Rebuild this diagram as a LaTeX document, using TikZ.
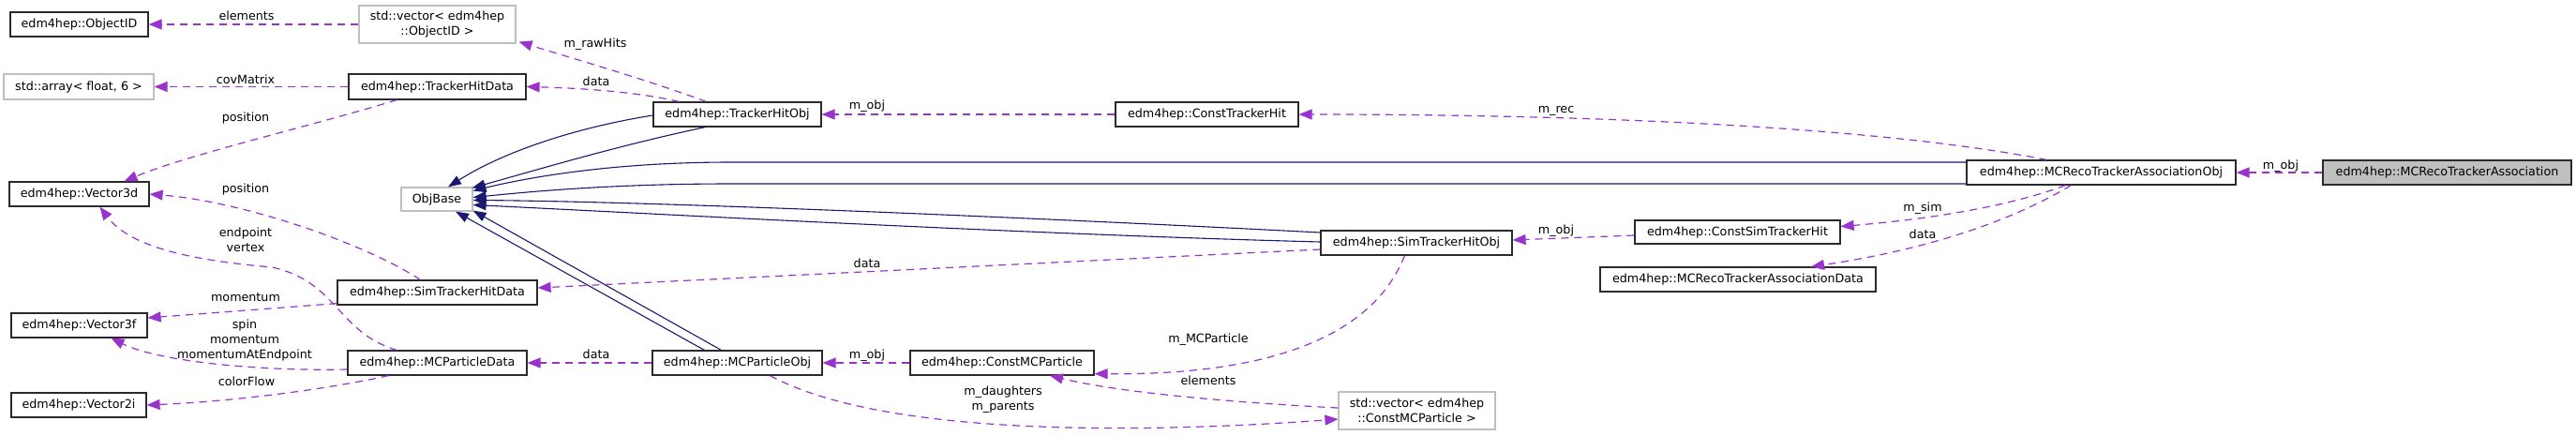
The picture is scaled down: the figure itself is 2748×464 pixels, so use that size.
\documentclass[tikz,border=0pt]{standalone}
\usepackage{fontspec}
\setmainfont{DejaVu Sans}
\usetikzlibrary{arrows.meta,calc}
\definecolor{usecol}{HTML}{9A32CD}
\definecolor{inhcol}{HTML}{191970}
\definecolor{extcol}{HTML}{BFBFBF}
\definecolor{bordcol}{HTML}{2A2A2A}
\newcommand\dxfont{\fontsize{12.7}{16}\selectfont}
\tikzset{
  cls/.style={draw=bordcol, fill=white, line width=1.2pt, inner sep=0pt, minimum height=26pt, font=\dxfont, align=center, text=black},
  ext/.style={cls, draw=extcol},
  root/.style={cls, fill=extcol},
  lbl/.style={font=\dxfont, inner sep=0pt, align=center, text=black},
  use/.style={draw=usecol, line width=1.2pt, dash pattern=on 8pt off 6pt, -{Triangle[length=14pt,width=11pt,fill=usecol]}},
  inh/.style={draw=inhcol, line width=1.1pt, -{Triangle[length=14pt,width=10pt,fill=inhcol]}},
}
\begin{document}
\begin{tikzpicture}[x=1pt,y=-1pt]
\useasboundingbox (0,0) rectangle (2748,464);
% nodes
\node[cls, minimum width=147pt] (objid) at (84.5,26) {edm4hep::ObjectID};
\node[ext, minimum width=167pt, minimum height=40pt] (vecobjid) at (466.5,26) {std::vector< edm4hep\\::ObjectID >};
\node[ext, minimum width=160pt, minimum height=27pt] (arr) at (84,92.5) {std::array< float, 6 >};
\node[cls, minimum width=189pt, minimum height=27pt] (thd) at (466.5,92.5) {edm4hep::TrackerHitData};
\node[cls, minimum width=149pt] (v3d) at (84.5,207) {edm4hep::Vector3d};
\node[ext, minimum width=76pt, minimum height=25pt] (objbase) at (466,212.5) {ObjBase};
\node[cls, minimum width=213pt] (sthd) at (466.5,312) {edm4hep::SimTrackerHitData};
\node[cls, minimum width=145pt] (v3f) at (84.5,347) {edm4hep::Vector3f};
\node[cls, minimum width=191pt] (mcpd) at (466.5,387) {edm4hep::MCParticleData};
\node[cls, minimum width=144pt] (v2i) at (84,432) {edm4hep::Vector2i};
\node[cls, minimum width=179pt] (tho) at (786.5,122) {edm4hep::TrackerHitObj};
\node[cls, minimum width=195pt] (cth) at (1287.5,122) {edm4hep::ConstTrackerHit};
\node[cls, minimum width=181pt] (mcpo) at (786.5,387) {edm4hep::MCParticleObj};
\node[cls, minimum width=196pt] (cmcp) at (1069,387) {edm4hep::ConstMCParticle};
\node[cls, minimum width=204pt] (stho) at (1511,259) {edm4hep::SimTrackerHitObj};
\node[cls, minimum width=219pt, minimum height=25pt] (csth) at (1853.5,247.5) {edm4hep::ConstSimTrackerHit};
\node[cls, minimum width=294pt] (mcrd) at (1854,298) {edm4hep::MCRecoTrackerAssociationData};
\node[ext, minimum width=167pt, minimum height=40pt] (vecmcp) at (1511.5,438) {std::vector< edm4hep\\::ConstMCParticle >};
\node[cls, minimum width=287pt] (mcro) at (2241.5,184) {edm4hep::MCRecoTrackerAssociationObj};
\node[root, minimum width=265pt] (mcra) at (2610.5,184) {edm4hep::MCRecoTrackerAssociation};
% inheritance edges
\draw[inh] ($(tho.west)+(0,1)$) .. controls (620,135) and (540,160) .. ($(objbase.north)+(12,0)$);
\draw[inh] ($(tho.south west)+(56,0)$) .. controls (660,155) and (570,182) .. ($(objbase.north east)+(-1,1)$);
\draw[inh] ($(mcro.west)+(0,-11)$) -- (780,173) .. controls (650,173) and (560,190) .. ($(objbase.east)+(0,-9)$);
\draw[inh] ($(mcro.west)+(0,12)$) -- (780,196) .. controls (650,196) and (560,205) .. ($(objbase.east)+(0,-2)$);
\draw[inh] ($(stho.west)+(0,-11)$) .. controls (1100,232) and (700,215) .. ($(objbase.east)+(0,1)$);
\draw[inh] ($(stho.west)+(0,-1)$) .. controls (1100,250) and (700,228) .. ($(objbase.east)+(0,6)$);
\draw[inh] ($(mcpo.north west)+(56,0)$) -- ($(objbase.south)+(20,0)$);
\draw[inh] ($(mcpo.north west)+(74,0)$) -- ($(objbase.south east)+(0,-1)$);
% usage edges
\draw[use] (vecobjid.west) -- (objid.east);
\draw[use] ($(tho.north west)+(57,0)$) .. controls (690,85) and (610,62) .. ($(vecobjid.south east)+(3,-2)$);
\draw[use] ($(tho.north west)+(28,0)$) .. controls (680,98) and (620,94) .. (thd.east);
\draw[use] (thd.west) -- (arr.east);
\draw[use] ($(thd.south west)+(52,0)$) .. controls (330,135) and (200,165) .. ($(v3d.north)+(48,0)$);
\draw[use] ($(sthd.north west)+(89,0)$) .. controls (390,260) and (260,215) .. (v3d.east);
\draw[use] ($(mcpd.north west)+(53,0)$) .. controls (360,355) and (360,300) .. (290,285) .. controls (210,278) and (140,265) .. ($(v3d.south)+(22,0)$);
\draw[use] ($(sthd.south west)+(0,-2)$) -- ($(v3f.east)+(0,-8)$);
\draw[use] ($(mcpd.west)+(0,7)$) .. controls (280,396) and (170,386) .. ($(v3f.south)+(34,0)$);
\draw[use] ($(mcpd.south west)+(44,0)$) .. controls (350,415) and (250,428) .. (v2i.east);
\draw[use] (mcpo.west) -- (mcpd.east);
\draw[use] ($(stho.west)+(0,7)$) -- ($(sthd.east)+(0,-5)$);
\draw[use] (cth.west) -- (tho.east);
\draw[use] (cmcp.west) -- (mcpo.east);
\draw[use] ($(stho.south west)+(90,0)$) .. controls (1460,370) and (1330,400) .. ($(cmcp.south east)+(0,-2)$);
\draw[use] ($(vecmcp.west)+(0,-3)$) .. controls (1330,430) and (1200,420) .. ($(cmcp.south)+(51,0)$);
\draw[use] ($(mcpo.south west)+(126,0)$) .. controls (950,470) and (1250,460) .. ($(vecmcp.west)+(0,9)$);
\draw[use] ($(csth.west)+(0,3.5)$) -- ($(stho.east)+(0,-3)$);
\draw[use] ($(mcro.north west)+(86,0)$) .. controls (2000,135) and (1700,122) .. (cth.east);
\draw[use] ($(mcro.south west)+(106,0)$) .. controls (2130,225) and (2030,236) .. ($(csth.east)+(0,-6)$);
\draw[use] ($(mcro.south west)+(112,0)$) .. controls (2130,245) and (2030,270) .. ($(mcrd.north)+(78,0)$);
\draw[use] (mcra.west) -- (mcro.east);
% labels
\node[lbl] (l1) at (263,17) {elements};
\node[lbl] (l2) at (635,47) {m\_rawHits};
\node[lbl] (l3) at (636,87) {data};
\node[lbl] (l4) at (262,85) {covMatrix};
\node[lbl] (l5) at (262,126) {position};
\node[lbl] (l6) at (262,202) {position};
\node[lbl] (l7) at (262,256) {endpoint\\vertex};
\node[lbl] (l8) at (262,317) {momentum};
\node[lbl] (l9) at (261,363) {spin\\momentum\\momentumAtEndpoint};
\node[lbl] (l10) at (263,407) {colorFlow};
\node[lbl] (l11) at (636,378) {data};
\node[lbl] (l12) at (925,281) {data};
\node[lbl] (l13) at (925,113) {m\_obj};
\node[lbl] (l14) at (925,379) {m\_obj};
\node[lbl] (l15) at (1289,362) {m\_MCParticle};
\node[lbl] (l16) at (1289,406) {elements};
\node[lbl] (l17) at (1070,426) {m\_daughters\\m\_parents};
\node[lbl] (l18) at (1660,246) {m\_obj};
\node[lbl] (l19) at (1660,118) {m\_rec};
\node[lbl] (l20) at (2051,222) {m\_sim};
\node[lbl] (l21) at (2051,250) {data};
\node[lbl] (l22) at (2433,177) {m\_obj};
\end{tikzpicture}
\end{document}
